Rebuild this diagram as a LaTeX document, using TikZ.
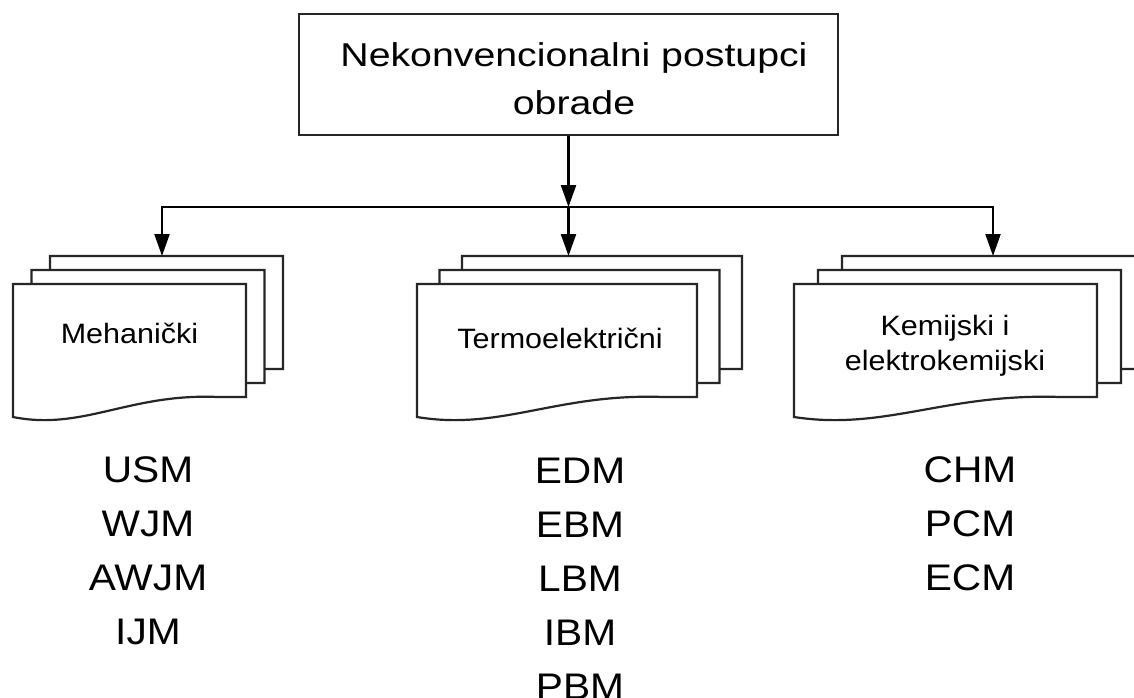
\documentclass[tikz,border=0pt]{standalone}
\usepackage{fontspec}
\setmainfont{Liberation Sans}
\usetikzlibrary{arrows.meta}
\newcommand\xstr[2]{\scalebox{#1}[1]{#2}}
% x, y (top of front page), width, height (to right bottom)
\newcommand\docpage[4]{%
  \path[page] (#1,#2) -- ({#1+#3},#2) -- ({#1+#3},{#2+#4}) -- ({#1+0.88*#3},{#2+#4})
    .. controls ({#1+0.5*#3},{#2+#4-4}) and ({#1+0.3*#3},{#2+#4+34}) .. (#1,{#2+#4+20}) -- cycle;}
% x, y (top of front page), width, height, page offset
\newcommand\multidoc[5]{%
  \docpage{#1+2*#5}{#2-28}{#3}{#4}%
  \docpage{#1+#5}{#2-14}{#3}{#4}%
  \docpage{#1}{#2}{#3}{#4}}
\begin{document}
\begin{tikzpicture}[x=1pt,y=-1pt,
  page/.style={draw=black!85, line width=2.2pt, fill=white, line join=miter},
  arr/.style={draw=black, line width=2.2pt, -{Triangle[width=15pt,length=22pt]}},
  box/.style={draw=black!85, line width=2.4pt, minimum width=539pt, minimum height=121pt, inner sep=0pt},
  toplbl/.style={font=\fontsize{33}{48}\selectfont, anchor=base, inner sep=0pt, align=center},
  doclbl/.style={font=\fontsize{28}{35}\selectfont, anchor=base, inner sep=0pt, align=center},
  item/.style={font=\fontsize{37}{54}\selectfont, anchor=base, inner sep=0pt, align=center}]
\clip (0,0) rectangle (1134,697);
\fill[white] (0,0) rectangle (1134,697);

% top box
\node[box] (root) at (568.5,74.5) {};
\node[toplbl] (rootlbl) at (574,114) {\xstr{1.19}{Nekonvencionalni postupci}\\\xstr{1.19}{obrade}};

% document stacks
\multidoc{13}{284}{233}{113}{18.5}
\multidoc{417}{284}{280}{113}{22.5}
\multidoc{794}{284}{303}{113}{24}

\node[doclbl] (meh) at (129.5,343) {\xstr{1.09}{Mehanički}};
\node[doclbl] (termo) at (560,348) {\xstr{1.09}{Termoelektrični}};
\node[doclbl] (kem) at (945,370) {\xstr{1.09}{Kemijski i}\\\xstr{1.09}{elektrokemijski}};

% connectors
\coordinate (junction) at (568.5,207);
\coordinate (mehtop) at (162,256);
\coordinate (termtop) at (568.5,256);
\coordinate (kemtop) at (993,256);
\draw[arr] (root.south) -- (junction);
\draw[arr] (junction) -- (termtop);
\draw[arr] (junction) -| (mehtop);
\draw[arr] (junction) -| (kemtop);

% lists
\node[item] (mehlist) at (148,644) {\xstr{1.1}{USM}\\\xstr{1.1}{WJM}\\\xstr{1.1}{AWJM}\\\xstr{1.1}{IJM}};
\node[item] (termlist) at (580,699) {\xstr{1.1}{EDM}\\\xstr{1.1}{EBM}\\\xstr{1.1}{LBM}\\\xstr{1.1}{IBM}\\\xstr{1.1}{PBM}};
\node[item] (kemlist) at (970,590) {\xstr{1.1}{CHM}\\\xstr{1.1}{PCM}\\\xstr{1.1}{ECM}};
\end{tikzpicture}
\end{document}
